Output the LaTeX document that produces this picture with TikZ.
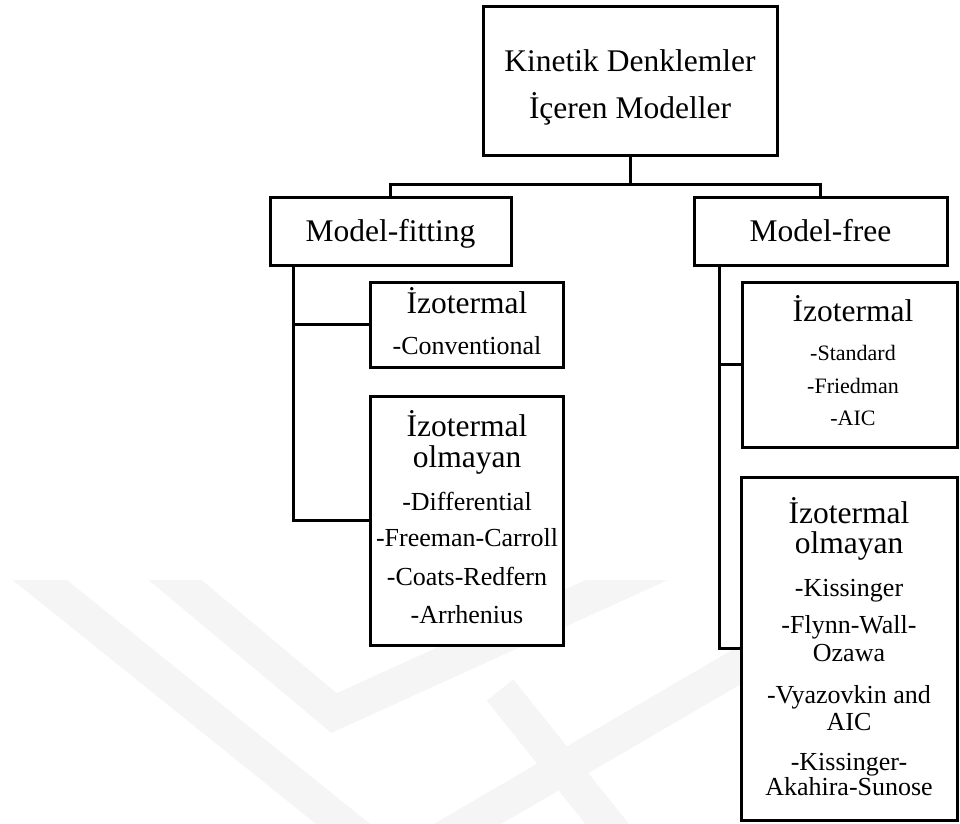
\documentclass[tikz,border=0pt]{standalone}
\usepackage{fontspec}
\setmainfont{Liberation Serif}
\begin{document}
\begin{tikzpicture}[x=1pt,y=-1pt,
  box/.style={draw,line width=3pt,fill=white,inner sep=0pt},
  conn/.style={line width=3pt},
  txt/.style={inner sep=0pt,anchor=base},
  big/.style={txt,font=\fontsize{31.5}{36}\selectfont},
  mid/.style={txt,font=\fontsize{26}{30}\selectfont},
  sml/.style={txt,font=\fontsize{22}{26}\selectfont},
  wm/.style={line width=34pt,color=black!4,line cap=butt,line join=miter}]
\useasboundingbox (0,0) rectangle (960,823);
% faint watermark
\begin{scope}
  \clip (0,580) rectangle (960,823);
  \draw[wm] (-10,540) -- (363,840);
  \draw[wm] (125,538) -- (334,713) -- (715,540);
  \draw[wm] (800,630) -- (440,840);
  \draw[wm] (500,690) -- (620,840);
\end{scope}
% boxes
\node[box,minimum width=294pt,minimum height=149pt] (root) at (630,80.5) {};
\node[box,minimum width=241pt,minimum height=68pt] (mfit) at (390.5,231) {};
\node[box,minimum width=253pt,minimum height=68pt] (mfree) at (820.5,231) {};
\node[box,minimum width=193pt,minimum height=85pt] (liso) at (467,324.5) {};
\node[box,minimum width=193pt,minimum height=249pt] (lnon) at (467,520.5) {};
\node[box,minimum width=215pt,minimum height=165pt] (riso) at (849.5,364.5) {};
\node[box,minimum width=215.5pt,minimum height=343pt] (rnon) at (849.25,648.5) {};
% connectors
\coordinate (bus) at (630,184);
\draw[conn] (root.south) -- (bus);
\draw[conn] (mfit.north) |- (bus) -| (mfree.north);
\draw[conn] ([xshift=-97.5pt]mfit.south) |- (liso.west);
\draw[conn] ([xshift=-97.5pt]mfit.south) |- (lnon.west);
\draw[conn] ([xshift=-101.5pt]mfree.south) |- (riso.west);
\draw[conn] ([xshift=-101.5pt]mfree.south) |- (rnon.west);
% texts
\node[big] (r1) at (630,71.7) {Kinetik Denklemler};
\node[big] (r2) at (630,118.3) {İçeren Modeller};
\node[big] (f1) at (390.5,241.5) {Model-fitting};
\node[big] (g1) at (820.5,241) {Model-free};
\node[big] (li1) at (467,313.3) {İzotermal};
\node[mid] (li2) at (467,354.3) {-Conventional};
\node[big] (ln1) at (467,436.7) {İzotermal};
\node[big] (ln2) at (467,467.3) {olmayan};
\node[mid] (ln3) at (467,510) {-Differential};
\node[mid] (ln4) at (467,546.7) {-Freeman-Carroll};
\node[mid] (ln5) at (467,585) {-Coats-Redfern};
\node[mid] (ln6) at (467,623.3) {-Arrhenius};
\node[big] (ri1) at (853,321.7) {İzotermal};
\node[sml] (ri2) at (853,360) {-Standard};
\node[sml] (ri3) at (853,393.3) {-Friedman};
\node[sml] (ri4) at (853,425) {-AIC};
\node[big] (rn1) at (849,523.3) {İzotermal};
\node[big] (rn2) at (849,553.3) {olmayan};
\node[mid] (rn3) at (849,596.7) {-Kissinger};
\node[mid] (rn4) at (849,633.3) {-Flynn-Wall-};
\node[mid] (rn5) at (849,661.7) {Ozawa};
\node[mid] (rn6) at (849,703.3) {-Vyazovkin and};
\node[mid] (rn7) at (849,730) {AIC};
\node[mid] (rn8) at (849,770) {-Kissinger-};
\node[mid] (rn9) at (849,795) {Akahira-Sunose};
\end{tikzpicture}
\end{document}
